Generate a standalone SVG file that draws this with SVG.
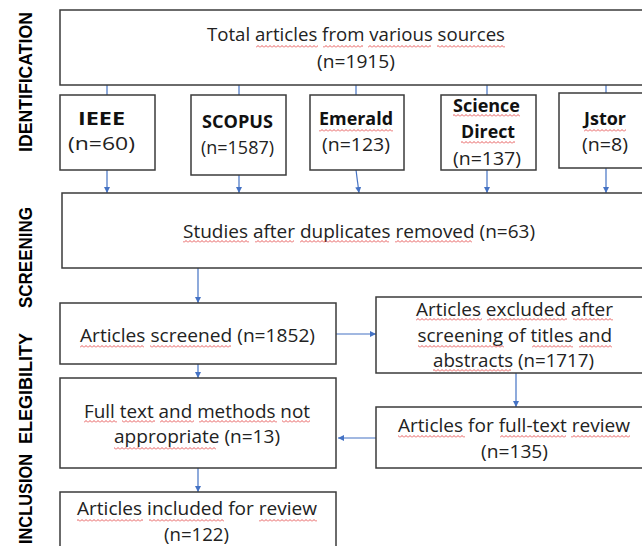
<svg xmlns="http://www.w3.org/2000/svg" width="642" height="546" viewBox="0 0 642 546">
<defs>
<style>
.box{fill:#fff;stroke:#3b3b3b;stroke-width:1.5}
.t{font-family:"Open Sans","Liberation Sans",sans-serif;font-size:18px;fill:#222}
.b{font-weight:bold;fill:#111}
.side{font-family:"Liberation Sans",Arial,sans-serif;font-weight:bold;font-size:17.5px;fill:#000}
.c{fill:none;stroke:#4472C4;stroke-width:1.2}
.ca{fill:none;stroke:#4472C4;stroke-width:1.2;marker-end:url(#ah)}
.sq{fill:url(#wavy)}
</style>
<marker id="ah" viewBox="0 0 6 6" refX="6" refY="3" markerWidth="6" markerHeight="6" markerUnits="userSpaceOnUse" orient="auto"><path d="M0,0 L6,3 L0,6 z" fill="#4472C4"/></marker>
<pattern id="wavy" patternUnits="userSpaceOnUse" width="4" height="3"><path d="M0,2.5 L2,0.5 L4,2.5" fill="none" stroke="#e03030" stroke-width="0.8"/></pattern>
</defs>
<rect width="642" height="546" fill="#fff"/>

<g id="side-labels">
<text class="side" transform="translate(32,152) rotate(-90)" x="0" y="0" textLength="140" lengthAdjust="spacingAndGlyphs">IDENTIFICATION</text>
<text class="side" transform="translate(32,308) rotate(-90)" x="0" y="0" textLength="101" lengthAdjust="spacingAndGlyphs">SCREENING</text>
<text class="side" transform="translate(32,444) rotate(-90)" x="0" y="0" textLength="111" lengthAdjust="spacingAndGlyphs">ELEGIBILITY</text>
<text class="side" transform="translate(32,544) rotate(-90)" x="0" y="0" textLength="90" lengthAdjust="spacingAndGlyphs">INCLUSION</text>
</g>

<g id="connectors">
<path class="c" d="M107,85 V95 M239,85 V95 M356,85 V95 M487,85 V95 M606,85 V93"/>
<path class="ca" d="M107,170 V193"/>
<path class="ca" d="M239,175 V193"/>
<path class="ca" d="M356,170 L359,193"/>
<path class="ca" d="M487,170 V193"/>
<path class="ca" d="M606,168 V193"/>
<path class="ca" d="M198,268 V303"/>
<path class="ca" d="M336,334 H376"/>
<path class="ca" d="M198,364 V378"/>
<path class="ca" d="M516,373 V407"/>
<path class="ca" d="M376,438 H338"/>
<path class="ca" d="M198,468 V492"/>
</g>

<g id="total">
<rect class="box" x="60" y="10" width="590" height="75"/>
<text class="t" x="207" y="41" textLength="298" lengthAdjust="spacingAndGlyphs">Total articles from various sources</text>
<text class="t" x="317" y="68" textLength="78" lengthAdjust="spacingAndGlyphs">(n=1915)</text>
</g>
<g id="ieee">
<rect class="box" x="60" y="95" width="95" height="75"/>
<text class="t b" x="78" y="125" textLength="47" lengthAdjust="spacingAndGlyphs">IEEE</text>
<text class="t" x="68" y="150" textLength="67" lengthAdjust="spacingAndGlyphs">(n=60)</text>
</g>
<g id="scopus">
<rect class="box" x="191" y="95" width="95" height="80"/>
<text class="t b" x="202" y="128" textLength="71" lengthAdjust="spacingAndGlyphs">SCOPUS</text>
<text class="t" x="201" y="154" textLength="73" lengthAdjust="spacingAndGlyphs">(n=1587)</text>
</g>
<g id="emerald">
<rect class="box" x="310" y="95" width="94" height="75"/>
<text class="t b" x="319" y="125" textLength="74" lengthAdjust="spacingAndGlyphs">Emerald</text>
<text class="t" x="322" y="151" textLength="68" lengthAdjust="spacingAndGlyphs">(n=123)</text>
</g>
<g id="sciencedirect">
<rect class="box" x="441" y="95" width="95" height="75"/>
<text class="t b" x="453" y="112" textLength="67" lengthAdjust="spacingAndGlyphs">Science</text>
<text class="t b" x="461" y="138" textLength="54" lengthAdjust="spacingAndGlyphs">Direct</text>
<text class="t" x="453" y="165" textLength="68" lengthAdjust="spacingAndGlyphs">(n=137)</text>
</g>
<g id="jstor">
<rect class="box" x="559" y="93" width="91" height="75"/>
<text class="t b" x="584" y="125" textLength="42" lengthAdjust="spacingAndGlyphs">Jstor</text>
<text class="t" x="582" y="151" textLength="46" lengthAdjust="spacingAndGlyphs">(n=8)</text>
</g>
<g id="studies">
<rect class="box" x="62" y="193" width="588" height="75"/>
<text class="t" x="183" y="238" textLength="352" lengthAdjust="spacingAndGlyphs">Studies after duplicates removed (n=63)</text>
</g>
<g id="screened">
<rect class="box" x="60" y="303" width="276" height="61"/>
<text class="t" x="80" y="342" textLength="235" lengthAdjust="spacingAndGlyphs">Articles screened (n=1852)</text>
</g>
<g id="excluded">
<rect class="box" x="376" y="297" width="274" height="76"/>
<text class="t" x="416" y="316" textLength="197" lengthAdjust="spacingAndGlyphs">Articles excluded after</text>
<text class="t" x="417.5" y="342" textLength="194.5" lengthAdjust="spacingAndGlyphs">screening of titles and</text>
<text class="t" x="433" y="367" textLength="161" lengthAdjust="spacingAndGlyphs">abstracts (n=1717)</text>
</g>
<g id="fulltext-review">
<rect class="box" x="376" y="407" width="274" height="61"/>
<text class="t" x="398" y="432" textLength="232" lengthAdjust="spacingAndGlyphs">Articles for full-text review</text>
<text class="t" x="481" y="458" textLength="67" lengthAdjust="spacingAndGlyphs">(n=135)</text>
</g>
<g id="not-appropriate">
<rect class="box" x="60" y="378" width="276" height="90"/>
<text class="t" x="84" y="418" textLength="226" lengthAdjust="spacingAndGlyphs">Full text and methods not</text>
<text class="t" x="114" y="443" textLength="166" lengthAdjust="spacingAndGlyphs">appropriate (n=13)</text>
</g>
<g id="included">
<rect class="box" x="60" y="492" width="276" height="60"/>
<text class="t" x="77" y="515" textLength="240" lengthAdjust="spacingAndGlyphs">Articles included for review</text>
<text class="t" x="164" y="541" textLength="65" lengthAdjust="spacingAndGlyphs">(n=122)</text>
</g>

<g id="spellcheck">
<rect class="sq" x="256" y="45" width="62" height="3"/>
<rect class="sq" x="323" y="45" width="40" height="3"/>
<rect class="sq" x="368" y="45" width="63" height="3"/>
<rect class="sq" x="437" y="45" width="68" height="3"/>
<rect class="sq" x="319" y="129" width="74" height="3"/>
<rect class="sq" x="453" y="114" width="67" height="3"/>
<rect class="sq" x="461" y="141" width="54" height="3"/>
<rect class="sq" x="584" y="129" width="42" height="3"/>
<rect class="sq" x="183" y="240" width="66" height="3"/>
<rect class="sq" x="255" y="240" width="39" height="3"/>
<rect class="sq" x="300" y="240" width="89" height="3"/>
<rect class="sq" x="395" y="240" width="77" height="3"/>
<rect class="sq" x="80" y="345" width="64" height="3"/>
<rect class="sq" x="150" y="345" width="81" height="3"/>
<rect class="sq" x="416" y="318" width="66" height="3"/>
<rect class="sq" x="487" y="318" width="80" height="3"/>
<rect class="sq" x="573" y="318" width="40" height="3"/>
<rect class="sq" x="418" y="345" width="86" height="3"/>
<rect class="sq" x="532" y="345" width="41" height="3"/>
<rect class="sq" x="579" y="345" width="33" height="3"/>
<rect class="sq" x="433" y="369" width="78" height="3"/>
<rect class="sq" x="398" y="435" width="67" height="3"/>
<rect class="sq" x="500" y="435" width="66" height="3"/>
<rect class="sq" x="571" y="435" width="59" height="3"/>
<rect class="sq" x="84" y="420" width="33" height="3"/>
<rect class="sq" x="122" y="420" width="33" height="3"/>
<rect class="sq" x="160" y="420" width="34" height="3"/>
<rect class="sq" x="199" y="420" width="78" height="3"/>
<rect class="sq" x="282" y="420" width="28" height="3"/>
<rect class="sq" x="114" y="447" width="102" height="3"/>
<rect class="sq" x="77" y="519" width="66" height="3"/>
<rect class="sq" x="149" y="519" width="75" height="3"/>
<rect class="sq" x="259" y="519" width="58" height="3"/>
</g>
</svg>
